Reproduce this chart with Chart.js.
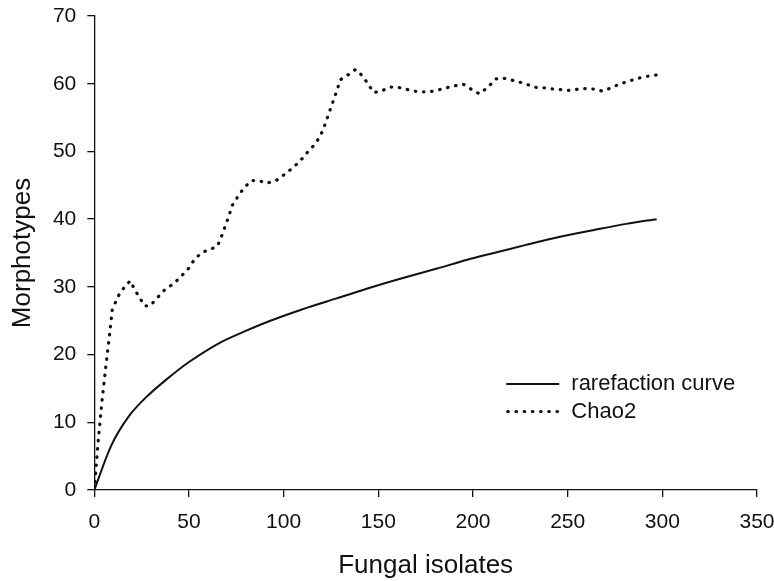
<!DOCTYPE html>
<html>
<head>
<meta charset="utf-8">
<script src="https://cdn.jsdelivr.net/npm/chart.js@4/dist/chart.umd.min.js"></script>
<style>
  html, body { margin: 0; padding: 0; background: #ffffff; }
  #wrap { width: 774px; height: 581px; }
</style>
</head>
<body>
<div id="wrap"><canvas id="c" width="774" height="581"></canvas></div>
<script>
// ---- data ----
const rarefactionX = [0, 9, 18, 27, 38, 50, 66, 80, 93, 110, 128, 146, 163, 181, 197, 211, 228, 246, 264, 281, 297];
const rarefactionY = [0, 6.6, 10.8, 13.6, 16.3, 18.9, 21.7, 23.5, 25.0, 26.7, 28.3, 29.9, 31.3, 32.7, 34.0, 35.0, 36.2, 37.4, 38.4, 39.3, 40.0];

const chaoX = [0, 2, 4, 6, 8, 9.5, 11, 13, 16, 19, 21.5, 24, 26.5, 29.5, 33, 37, 42, 46, 50, 53, 57, 61, 65, 67, 70, 73, 76, 79, 83, 87, 91, 96, 100, 104, 108.5, 112, 116, 119, 121, 122.5, 124, 125.5, 127, 128.5, 130, 134, 138, 141.5, 144.5, 147.5, 151.5, 156, 160, 164.5, 169, 173, 177, 182, 186, 190.5, 195, 199, 203.5, 208, 212, 216.5, 221, 225, 229.5, 234, 238, 242.5, 247, 251, 255.5, 260, 264, 268.5, 273, 277, 281.5, 286, 290, 294.5, 297];
const chaoY = [0, 7, 13, 18, 22.8, 26.6, 27.6, 28.8, 30.0, 30.9, 29.5, 28.4, 27.2, 27.2, 28.3, 29.5, 30.5, 31.6, 32.8, 34.1, 35.1, 35.5, 36.0, 37.3, 39.6, 42.1, 43.4, 44.6, 45.7, 45.7, 45.3, 45.7, 46.5, 47.4, 48.5, 49.7, 50.9, 52.1, 53.3, 54.5, 55.7, 56.9, 58.1, 59.3, 60.6, 61.3, 62.1, 61.2, 60.0, 58.7, 58.9, 59.5, 59.5, 59.2, 58.9, 58.8, 58.8, 59.1, 59.4, 59.7, 59.9, 59.2, 58.5, 59.5, 60.7, 60.8, 60.5, 60.2, 59.8, 59.4, 59.4, 59.2, 59.1, 59.0, 59.2, 59.3, 59.2, 58.9, 59.4, 59.9, 60.3, 60.7, 61.0, 61.2, 61.3];

const seriesNames = ['rarefaction curve', 'Chao2'];
const xTitle = 'Fungal isolates';
const yTitle = 'Morphotypes';
const xMin = 0, xMax = 350, xStep = 50;
const yMin = 0, yMax = 70, yStep = 10;

const toPoints = (xs, ys) => xs.map((x, i) => ({ x: x, y: ys[i] }));

const FONT = "'Liberation Sans', Arial, sans-serif";
const INK = '#111111';

const legendPlugin = {
  id: 'insideLegend',
  afterDraw(chart) {
    const ctx = chart.ctx;
    const a = chart.chartArea;
    const x0 = a.left + 412;
    const lineLen = 53;
    const rows = [a.top + 368, a.top + 395.5];
    ctx.save();
    ctx.strokeStyle = INK;
    ctx.lineCap = 'butt';
    ctx.lineWidth = 2;
    ctx.setLineDash([]);
    ctx.beginPath();
    ctx.moveTo(x0, rows[0]);
    ctx.lineTo(x0 + lineLen, rows[0]);
    ctx.stroke();
    ctx.lineWidth = 3.2;
    ctx.lineCap = 'round';
    ctx.setLineDash([0.5, 7.7]);
    ctx.beginPath();
    ctx.moveTo(x0 + 1.5, rows[1]);
    ctx.lineTo(x0 + lineLen, rows[1]);
    ctx.stroke();
    ctx.setLineDash([]);
    ctx.fillStyle = INK;
    ctx.font = "22px " + FONT;
    ctx.textAlign = 'left';
    ctx.textBaseline = 'middle';
    ctx.fillText(seriesNames[0], x0 + 65, rows[0]);
    ctx.fillText(seriesNames[1], x0 + 65, rows[1]);
    ctx.restore();
  }
};

new Chart(document.getElementById('c'), {
  type: 'scatter',
  data: {
    datasets: [
      {
        label: seriesNames[0],
        data: toPoints(rarefactionX, rarefactionY),
        showLine: true,
        borderColor: INK,
        borderWidth: 2,
        pointRadius: 0,
        tension: 0.3,
        fill: false
      },
      {
        label: seriesNames[1],
        data: toPoints(chaoX, chaoY),
        showLine: true,
        borderColor: INK,
        borderWidth: 3.2,
        borderDash: [0.5, 7.7],
        borderCapStyle: 'round',
        pointRadius: 0,
        tension: 0,
        fill: false
      }
    ]
  },
  options: {
    responsive: false,
    animation: false,
    devicePixelRatio: 1,
    layout: { padding: { top: 16, right: 17, left: 0, bottom: 0 } },
    plugins: {
      legend: { display: false },
      tooltip: { enabled: false }
    },
    scales: {
      x: {
        type: 'linear',
        min: xMin, max: xMax,
        afterFit(scale) { scale.height = 91; scale.paddingLeft = 0; scale.paddingRight = 0; },
        border: { display: true, color: INK, width: 1.3 },
        grid: { drawOnChartArea: false, drawTicks: true, tickLength: 7, color: INK, lineWidth: 1.3 },
        ticks: { stepSize: xStep, color: INK, padding: 13, font: { family: FONT, size: 21 }, maxRotation: 0 },
        title: { display: true, text: xTitle, color: INK, font: { family: FONT, size: 26 }, padding: { top: 10, bottom: 0 } }
      },
      y: {
        type: 'linear',
        min: yMin, max: yMax,
        afterFit(scale) { scale.width = 94.3; scale.paddingTop = 0; scale.paddingBottom = 0; },
        border: { display: true, color: INK, width: 1.3 },
        grid: { drawOnChartArea: false, drawTicks: true, tickLength: 7, color: INK, lineWidth: 1.3 },
        ticks: { stepSize: yStep, color: INK, padding: 11, font: { family: FONT, size: 21 } },
        title: { display: true, text: yTitle, color: INK, font: { family: FONT, size: 26 }, padding: { top: 7, bottom: 0 } }
      }
    }
  },
  plugins: [legendPlugin]
});
</script>
</body>
</html>
